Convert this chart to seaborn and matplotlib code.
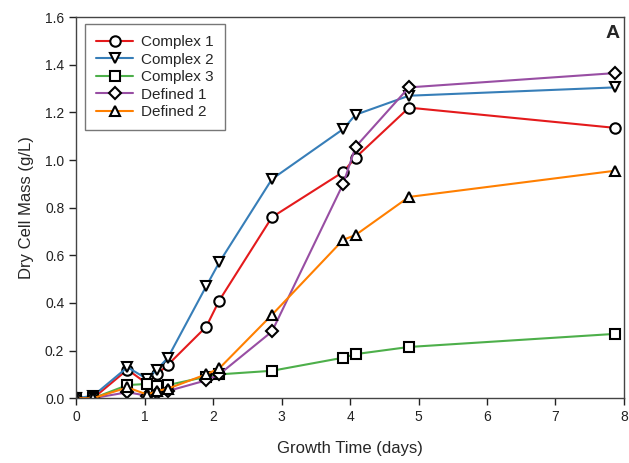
import numpy as np
import pandas as pd
import matplotlib
matplotlib.use("Agg")
import matplotlib.pyplot as plt
import seaborn as sns

# growth time (days) shared by all series
days = [0, 0.25, 0.75, 1.04, 1.18, 1.34, 1.9, 2.09, 2.86, 3.9, 4.08, 4.86, 7.87]

complex_1 = [0, 0, 0.12, 0.06, 0.10, 0.14, 0.30, 0.41, 0.76, 0.95, 1.01, 1.22, 1.135]
complex_2 = [0, 0.01, 0.13, 0.08, 0.12, 0.17, 0.47, 0.57, 0.92, 1.13, 1.19, 1.27, 1.305]
complex_3 = [0, 0, 0.055, 0.06, 0.05, 0.055, 0.09, 0.10, 0.115, 0.17, 0.185, 0.215, 0.27]
defined_1 = [0, 0, 0.025, 0.01, 0.02, 0.03, 0.075, 0.10, 0.28, 0.90, 1.055, 1.305, 1.365]
defined_2 = [0, 0, 0.045, 0.015, 0.03, 0.04, 0.10, 0.125, 0.35, 0.665, 0.685, 0.845, 0.955]

names = ["Complex 1", "Complex 2", "Complex 3", "Defined 1", "Defined 2"]
series = [complex_1, complex_2, complex_3, defined_1, defined_2]
markers = ["o", "v", "s", "D", "^"]
sizes = [7.5, 7, 6.5, 6.5, 7]

sns.set_theme(style="ticks")
plt.rcParams["font.family"] = ["Liberation Sans", "DejaVu Sans"]

colors = sns.color_palette("Set1", 5)

fig = plt.figure(figsize=(6.29, 4.63), dpi=100)
ax = fig.add_axes([0.121, 0.140, 0.871, 0.823])

for name, vals, mk, ms, col in zip(names, series, markers, sizes, colors):
    df = pd.DataFrame({"days": days, "mass": vals})
    sns.lineplot(data=df, x="days", y="mass", ax=ax, color=col, lw=1.5,
                 marker=mk, markersize=ms, markerfacecolor="white",
                 markeredgecolor="black", markeredgewidth=1.5,
                 label=name, sort=False)

ax.set_xlim(0, 8)
ax.set_ylim(0, 1.6)
ax.set_xticks(range(0, 9))
ax.set_yticks(np.arange(0, 1.61, 0.2))
ax.set_yticklabels([f"{v:.1f}" for v in np.arange(0, 1.61, 0.2)])
ax.tick_params(direction="out", length=5, width=1, labelsize=10, colors="#222222")
for s in ax.spines.values():
    s.set_color("#444444")
    s.set_linewidth(1)

ax.set_xlabel("Growth Time (days)", fontsize=12, labelpad=12)
ax.set_ylabel("Dry Cell Mass (g/L)", fontsize=12, labelpad=8)

ax.text(0.993, 0.979, "A", transform=ax.transAxes, ha="right", va="top",
        fontsize=14, fontweight="bold")

leg = ax.legend(loc="upper left", bbox_to_anchor=(0.016, 0.982), fontsize=11,
                frameon=True, fancybox=False, edgecolor="#555555",
                handlelength=2.4, handletextpad=0.5, labelspacing=0.22,
                borderpad=0.75, borderaxespad=0)
leg.get_frame().set_linewidth(1)

fig.savefig("out.png", dpi=100)
